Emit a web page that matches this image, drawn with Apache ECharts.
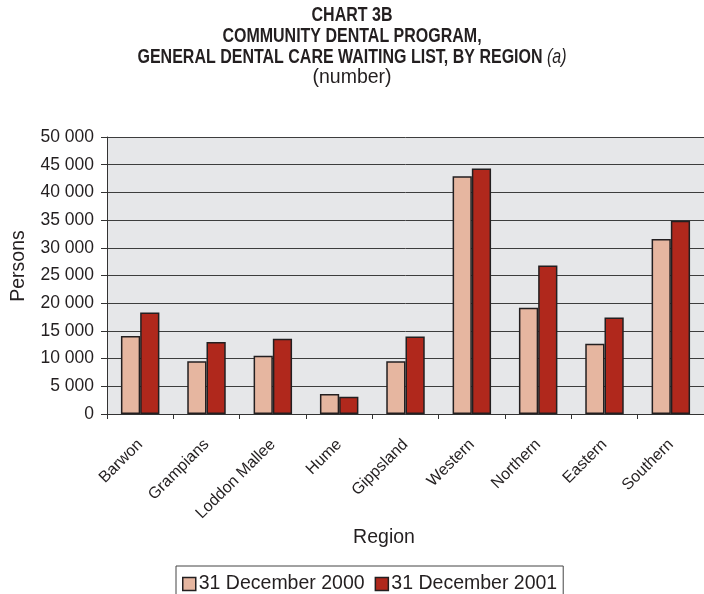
<!DOCTYPE html>
<html>
<head>
<meta charset="utf-8">
<script src="https://cdn.jsdelivr.net/npm/echarts@6/dist/echarts.min.js"></script>
<style>
  html, body { margin: 0; padding: 0; background: #fff; }
  #chart { width: 704px; height: 594px; }
</style>
</head>
<body>
<div id="chart"></div>
<script>
// Waiting list sizes by region, two snapshot dates
const regions = ['Barwon', 'Grampians', 'Loddon Mallee', 'Hume', 'Gippsland', 'Western', 'Northern', 'Eastern', 'Southern'];
const dec2000 = [14100, 9500, 10500, 3600, 9500, 42900, 19200, 12700, 31600];
const dec2001 = [18300, 13000, 13600, 3100, 14000, 44300, 26800, 17400, 34900];
const seriesNames = ['31 December 2000', '31 December 2001'];

const sans = '"Liberation Sans", Arial, Helvetica, sans-serif';
const ink = '#231f20';

const chart = echarts.init(document.getElementById('chart'), null, { renderer: 'canvas' });

// Condensed bold heading lines, centred on the page
const heading = (text, y, rich, weight) => ({
  type: 'text',
  x: 352,
  y: y,
  scaleX: 0.8,
  silent: true,
  style: {
    text: text,
    align: 'center',
    verticalAlign: 'middle',
    fontFamily: sans,
    fontSize: 20,
    fontWeight: weight || 'bold',
    fill: ink,
    rich: rich
  }
});

chart.setOption({
  backgroundColor: '#ffffff',
  animation: false,
  legend: {
    left: 176,
    top: 566,
    padding: [8, 6, 10, 6],
    borderColor: '#444',
    borderWidth: 1,
    itemWidth: 13,
    itemHeight: 13,
    itemGap: 10,
    icon: 'rect',
    itemStyle: { borderColor: ink, borderWidth: 1.5 },
    textStyle: { fontFamily: sans, fontSize: 19.5, color: ink, padding: [0, 0, 0, -2] },
    data: seriesNames
  },
  grid: {
    left: 107,
    top: 137,
    right: -9,
    bottom: 180,
    show: true,
    backgroundColor: '#e6e7e9',
    borderWidth: 0
  },
  graphic: [
    heading('CHART 3B', 15),
    heading('COMMUNITY DENTAL PROGRAM,', 36),
    heading('{b|GENERAL DENTAL CARE WAITING LIST, BY REGION} {i|(a)}', 57, {
      b: { fontFamily: sans, fontSize: 20, fontWeight: 'bold', fill: ink },
      i: { fontFamily: sans, fontSize: 20, fontStyle: 'italic', fontWeight: 'normal', fill: ink }
    }),
    {
      type: 'text', x: 352, y: 78, silent: true,
      style: { text: '(number)', align: 'center', verticalAlign: 'middle', fontFamily: sans, fontSize: 19.5, fill: ink }
    },
    {
      type: 'text', x: 19, y: 266, rotation: Math.PI / 2, silent: true,
      style: { text: 'Persons', align: 'center', verticalAlign: 'middle', fontFamily: sans, fontSize: 19.5, fill: ink }
    },
    {
      type: 'text', x: 384, y: 538, silent: true,
      style: { text: 'Region', align: 'center', verticalAlign: 'middle', fontFamily: sans, fontSize: 19.5, fill: ink }
    }
  ],
  xAxis: {
    type: 'category',
    data: regions,
    axisLine: { show: true, lineStyle: { color: '#333', width: 1 } },
    axisTick: { show: true, length: 5, lineStyle: { color: '#333' } },
    axisLabel: { interval: 0, rotate: 45, margin: 28, fontFamily: sans, fontSize: 16, color: ink },
    splitLine: { show: false }
  },
  yAxis: {
    type: 'value',
    min: 0,
    max: 50000,
    interval: 5000,
    axisLine: { show: true, lineStyle: { color: '#333', width: 1 } },
    axisTick: { show: true, length: 6, lineStyle: { color: '#333' } },
    axisLabel: {
      margin: 13,
      fontFamily: sans,
      fontSize: 17.5,
      color: ink,
      formatter: v => String(v).replace(/\B(?=(\d{3})+(?!\d))/g, ' ')
    },
    splitLine: { show: true, lineStyle: { color: '#3d3d3d', width: 1 } }
  },
  series: [
    {
      name: seriesNames[0],
      type: 'bar',
      data: dec2000,
      barGap: '0%',
      barCategoryGap: '42%',
      itemStyle: { color: '#e6b6a0', borderColor: ink, borderWidth: 1.5 }
    },
    {
      name: seriesNames[1],
      type: 'bar',
      data: dec2001,
      barGap: '0%',
      barCategoryGap: '42%',
      itemStyle: { color: '#b0281c', borderColor: ink, borderWidth: 1.5 }
    }
  ]
});
</script>
</body>
</html>
